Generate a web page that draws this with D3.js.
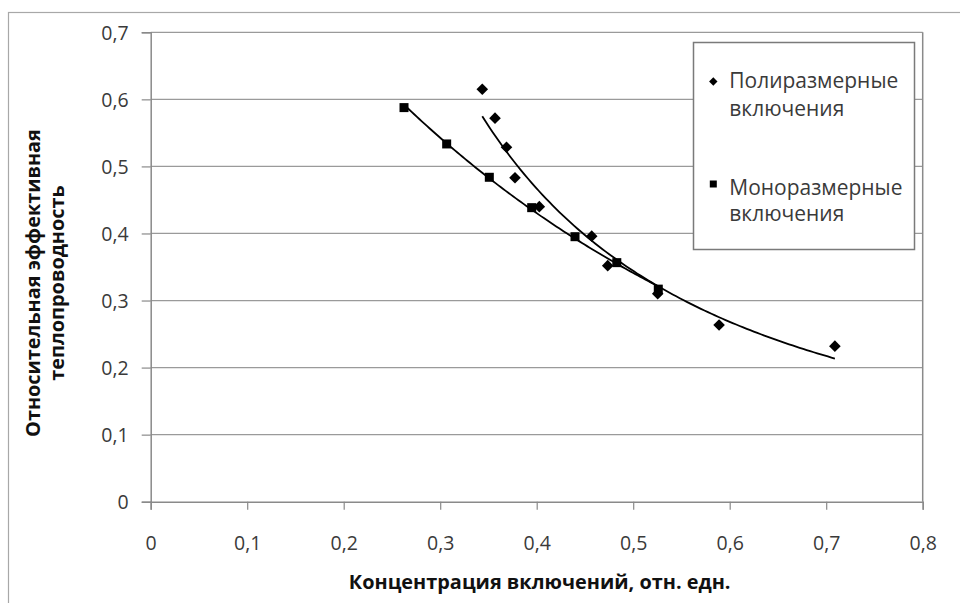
<!DOCTYPE html>
<html><head><meta charset="utf-8">
<script src="https://cdn.jsdelivr.net/npm/d3@7"></script>
<style>body{margin:0;background:#fff}svg{display:block}</style>
</head><body>
<svg id="c" width="960" height="603"></svg>
<script>
// Data
const polyX = [0.3436, 0.3568, 0.3687, 0.3775, 0.4027, 0.457, 0.4736, 0.5254, 0.589, 0.709];
const polyY = [0.615, 0.572, 0.5286, 0.4832, 0.44, 0.396, 0.352, 0.31, 0.2635, 0.232];
const monoX = [0.2625, 0.3067, 0.3509, 0.3948, 0.4397, 0.483, 0.526];
const monoY = [0.5877, 0.5335, 0.4838, 0.4385, 0.3952, 0.3565, 0.317];
const xTicks = [0, 0.1, 0.2, 0.3, 0.4, 0.5, 0.6, 0.7, 0.8];
const yTicks = [0, 0.1, 0.2, 0.3, 0.4, 0.5, 0.6, 0.7];
const seriesNames = [["Полиразмерные", "включения"], ["Моноразмерные", "включения"]];
const xTitle = "Концентрация включений, отн. едн.";
const yTitle = ["Относительная эффективная", "теплопроводность"];

const svg = d3.select("#c");
const L = 150.7, R = 922.7, T = 32.3, B = 501.7;
const x = d3.scaleLinear().domain([0, 0.8]).range([L, R]);
const y = d3.scaleLinear().domain([0, 0.7]).range([B, T]);
const fmt = d => String(+d.toFixed(1)).replace(".", ",");
const FONT = "'Open Sans', 'DejaVu Sans', sans-serif";
const textCol = "#3a3a3a";

function fit(sel, target) {
  const w = sel.node().getComputedTextLength();
  const fs = parseFloat(sel.attr("font-size"));
  const n = fs * target / w;
  sel.attr("font-size", n);
  return n;
}

// outer chart border
svg.append("rect").attr("x", 8.5).attr("y", 12.5).attr("width", 1000).attr("height", 700)
  .attr("fill", "none").attr("stroke", "#a8a8a8").attr("stroke-width", 1.2);

// gridlines
svg.append("g").selectAll("line").data(yTicks.filter(d => d > 0)).join("line")
  .attr("x1", L).attr("x2", R).attr("y1", d => y(d)).attr("y2", d => y(d))
  .attr("stroke", "#9a9a9a").attr("stroke-width", 1.2);

// plot right border
svg.append("line").attr("x1", R).attr("x2", R).attr("y1", T).attr("y2", B)
  .attr("stroke", "#8a8a8a").attr("stroke-width", 1.5);

// axes
const xAxis = d3.axisBottom(x).tickValues(xTicks).tickFormat(fmt).tickSize(8).tickPadding(40);
const gx = svg.append("g").attr("transform", `translate(0,${B})`).call(xAxis);
const yAxis = d3.axisLeft(y).tickValues(yTicks).tickFormat(fmt).tickSize(9).tickPadding(13);
const gy = svg.append("g").attr("transform", `translate(${L},0)`).call(yAxis);
[gx, gy].forEach(g => {
  g.attr("font-size", null).attr("font-family", null);
  g.select(".domain").attr("stroke", "#8a8a8a").attr("stroke-width", 1.5);
  g.selectAll(".tick line").attr("stroke", "#8a8a8a").attr("stroke-width", 1.2);
  g.selectAll(".tick text").attr("font-family", FONT).attr("font-size", 19.5).attr("fill", textCol);
});
gx.selectAll(".tick text").attr("dy", "0");
gy.selectAll(".tick text").attr("dy", "0.36em");

// trendlines computed from data: power (y = a x^b) and exponential (y = a e^(bx))
function regress(xs, ys, kind) {
  const lx = kind === "power" ? xs.map(Math.log) : xs.slice(), ly = ys.map(Math.log);
  const mx = d3.mean(lx), my = d3.mean(ly);
  const b = d3.sum(lx, (v, i) => (v - mx) * (ly[i] - my)) / d3.sum(lx, v => (v - mx) ** 2);
  const a = Math.exp(my - b * mx);
  const f = kind === "power" ? (v => a * Math.pow(v, b)) : (v => a * Math.exp(b * v));
  const [x0, x1] = d3.extent(xs);
  return d3.range(0, 101).map(i => { const xv = x0 + (x1 - x0) * i / 100; return [xv, f(xv)]; });
}
const line = d3.line().x(d => x(d[0])).y(d => y(d[1]));
svg.append("path").attr("d", line(regress(polyX, polyY, "power"))).attr("fill", "none").attr("stroke", "#000").attr("stroke-width", 1.8);
svg.append("path").attr("d", line(regress(monoX, monoY, "exp"))).attr("fill", "none").attr("stroke", "#000").attr("stroke-width", 1.8);

// markers
const diamond = s => `M0,${-s}L${s},0L0,${s}L${-s},0Z`;
svg.append("g").selectAll("rect").data(monoX.map((v, i) => [v, monoY[i]])).join("rect")
  .attr("x", d => x(d[0]) - 4.5).attr("y", d => y(d[1]) - 4.5).attr("width", 9).attr("height", 9).attr("fill", "#000");
svg.append("g").selectAll("path").data(polyX.map((v, i) => [v, polyY[i]])).join("path")
  .attr("d", diamond(5.8)).attr("transform", d => `translate(${x(d[0])},${y(d[1])})`).attr("fill", "#000");

// legend
svg.append("rect").attr("x", 693.5).attr("y", 42.5).attr("width", 221).attr("height", 207)
  .attr("fill", "#fff").attr("stroke", "#7a7a7a").attr("stroke-width", 1.5);
svg.append("path").attr("d", diamond(4.2)).attr("transform", "translate(713.3,81.5)").attr("fill", "#000");
svg.append("rect").attr("x", 709.8).attr("y", 180.5).attr("width", 7).attr("height", 7).attr("fill", "#000");
const legY = [[88.3, 116], [195, 221]];
let legFs = 17.5;
seriesNames.forEach((nm, si) => {
  nm.forEach((t, li) => {
    const tx = svg.append("text").attr("x", 729.3).attr("y", legY[si][li]).text(t)
      .attr("font-family", FONT).attr("font-size", legFs).attr("fill", textCol);
    if (si === 0 && li === 0) legFs = fit(tx, 169);
  });
});

// axis titles
const xt = svg.append("text").attr("x", (L + R) / 2 + 3).attr("y", 589).attr("text-anchor", "middle")
  .attr("font-family", FONT).attr("font-weight", "bold").attr("font-size", 16).attr("fill", "#111").text(xTitle);
fit(xt, 382);
const yt1 = svg.append("text").attr("transform", `translate(40,283) rotate(-90)`).attr("text-anchor", "middle")
  .attr("font-family", FONT).attr("font-weight", "bold").attr("font-size", 16).attr("fill", "#111").text(yTitle[0]);
const yfs = fit(yt1, 308);
svg.append("text").attr("transform", `translate(64,283) rotate(-90)`).attr("text-anchor", "middle")
  .attr("font-family", FONT).attr("font-weight", "bold").attr("font-size", yfs).attr("fill", "#111").text(yTitle[1]);
</script>
</body></html>
